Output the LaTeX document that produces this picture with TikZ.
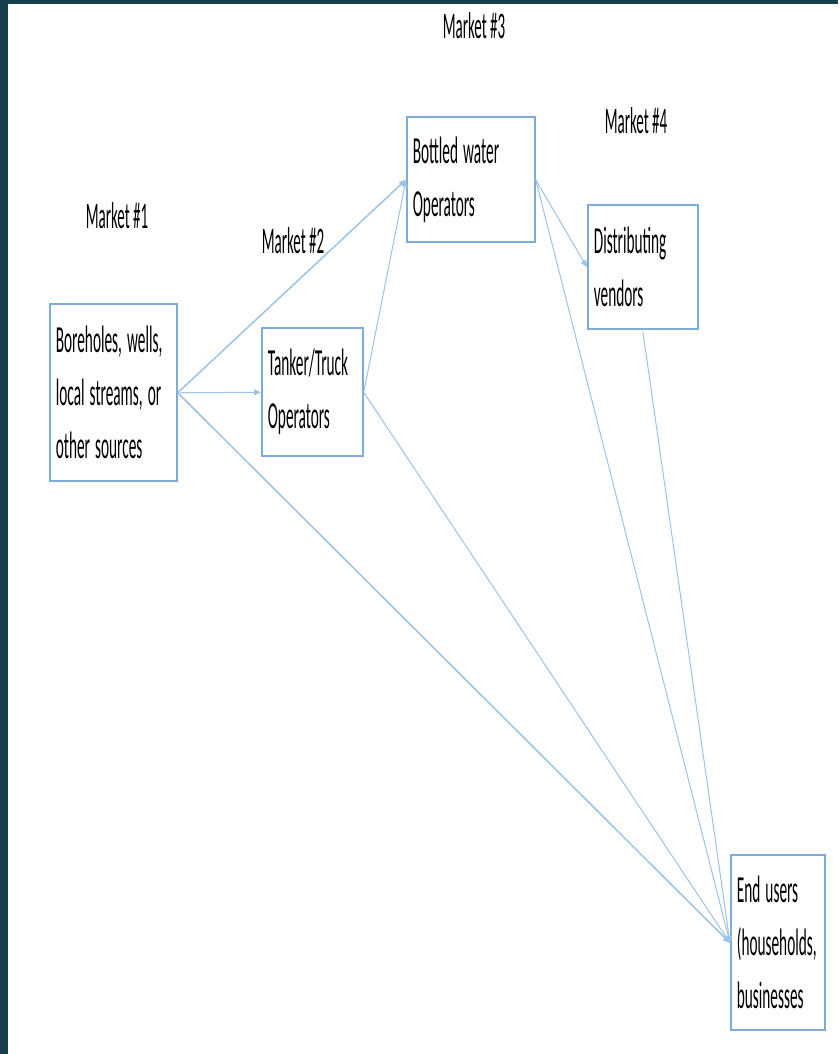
\documentclass[tikz,border=0pt]{standalone}
\usepackage{fontspec}
\setmainfont{Carlito}
\usetikzlibrary{arrows.meta}
\definecolor{framecol}{HTML}{17404F}
\definecolor{boxline}{HTML}{7EACDA}
\definecolor{flowcol}{HTML}{9DC3E6}
\begin{document}
\begin{tikzpicture}[
        x=1pt, y={(0,-0.4pt)}, yscale=2.5,
        every node/.style={transform shape},
        box/.style={draw=boxline, line width=1.7pt, fill=white, anchor=north west, align=left,
            inner xsep=6pt, inner ysep=2pt, font=\fontsize{15.3}{21.2}\selectfont},
        market/.style={anchor=base, inner sep=0pt, font=\fontsize{15}{18}\selectfont},
        flow/.style={draw=flowcol, line width=1.5pt, -{Triangle[length=7pt, width=6pt]}},
        thinflow/.style={flow, line width=1pt}
    ]
        % frame
        \fill[framecol] (0,0) rectangle (838,1054);
        \fill[white] (8,4) rectangle (838,1054);

        \coordinate (srcpos) at (49,302);
        \coordinate (tankpos) at (261,326);
        \coordinate (bottpos) at (406,115);
        \coordinate (distpos) at (587,203);
        \coordinate (endpos) at (730,853);

        \node[box, text width=115pt, minimum height=70.8pt] (src) at (srcpos) {Boreholes, wells,\\local streams, or\\other sources};
        \node[box, text width=89pt, minimum height=51.2pt] (tanker) at (tankpos) {Tanker/Truck\\Operators};
        \node[box, text width=116pt, minimum height=50pt] (bottled) at (bottpos) {Bottled water\\Operators};
        \node[box, text width=98pt, minimum height=49.6pt] (vendors) at (distpos) {Distributing\\vendors};
        \node[box, text width=82pt, minimum height=70pt] (users) at (endpos) {End users\\(households,\\businesses};

        \node[market] (m1) at (117,228) {Market \#1};
        \node[market] (m2) at (293,253) {Market \#2};
        \node[market] (m3) at (474,38) {Market \#3};
        \node[market] (m4) at (636,133) {Market \#4};

        \draw[flow] (src.east) -- (bottled.west);
        \draw[thinflow] (src.east) -- (tanker.west);
        \draw[flow] (src.east) -- (users.west);
        \draw[thinflow] (tanker.east) -- (bottled.west);
        \draw[thinflow] (tanker.east) -- (users.west);
        \draw[thinflow] (bottled.east) -- (vendors.west);
        \draw[thinflow] (bottled.east) -- (users.west);
        \draw[thinflow] (vendors.south) -- (users.west);
    \end{tikzpicture}
\end{document}
